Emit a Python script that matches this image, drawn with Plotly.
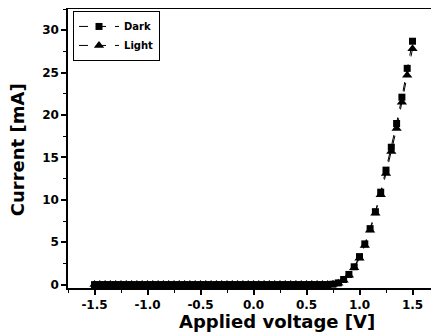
import plotly.graph_objects as go

voltage = [-1.5, -1.45, -1.4, -1.35, -1.3, -1.25, -1.2, -1.15, -1.1, -1.05,
           -1.0, -0.95, -0.9, -0.85, -0.8, -0.75, -0.7, -0.65, -0.6, -0.55,
           -0.5, -0.45, -0.4, -0.35, -0.3, -0.25, -0.2, -0.15, -0.1, -0.05,
           0.0, 0.05, 0.1, 0.15, 0.2, 0.25, 0.3, 0.35, 0.4, 0.45,
           0.5, 0.55, 0.6, 0.65, 0.7, 0.75, 0.8, 0.85, 0.9, 0.95,
           1.0, 1.05, 1.1, 1.15, 1.2, 1.25, 1.3, 1.35, 1.4, 1.45, 1.5]

dark = [0, 0, 0, 0, 0, 0, 0, 0, 0, 0,
        0, 0, 0, 0, 0, 0, 0, 0, 0, 0,
        0, 0, 0, 0, 0, 0, 0, 0, 0, 0,
        0, 0, 0, 0, 0, 0, 0, 0, 0, 0,
        0, 0, 0, 0, 0, 0.05, 0.2, 0.6, 1.2, 2.1,
        3.3, 4.8, 6.6, 8.6, 10.9, 13.5, 16.2, 19.0, 22.1, 25.5, 28.7]

light = [0, 0, 0, 0, 0, 0, 0, 0, 0, 0,
         0, 0, 0, 0, 0, 0, 0, 0, 0, 0,
         0, 0, 0, 0, 0, 0, 0, 0, 0, 0,
         0, 0, 0, 0, 0, 0, 0, 0, 0, 0,
         0, 0, 0, 0, 0, 0.03, 0.15, 0.5, 1.1, 2.0,
         3.1, 4.6, 6.4, 8.4, 10.6, 13.1, 15.7, 18.4, 21.5, 24.7, 27.8]

x_ticks = [-1.5, -1.0, -0.5, 0.0, 0.5, 1.0, 1.5]
x_ticklabels = ["-1.5", "-1.0", "-0.5", "0.0", "0.5", "1.0", "1.5"]
y_ticks = [0, 5, 10, 15, 20, 25, 30]

FONT = "DejaVu Sans"

fig = go.Figure()
fig.add_trace(go.Scatter(
    x=voltage, y=dark, name="<b>Dark</b>", mode="lines+markers",
    line=dict(color="black", width=1, dash="dash"),
    marker=dict(symbol="square", size=7, color="black"),
))
fig.add_trace(go.Scatter(
    x=voltage, y=light, name="<b>Light</b>", mode="lines+markers",
    line=dict(color="black", width=1, dash="dash"),
    marker=dict(symbol="triangle-up", size=9, color="black"),
))

fig.update_layout(
    template="none",
    width=431, height=325,
    margin=dict(l=60, r=0, t=1, b=45, autoexpand=False),
    paper_bgcolor="white", plot_bgcolor="white",
    font=dict(family=FONT, color="black"),
    showlegend=True,
    legend=dict(
        x=0.0135, y=0.993, xanchor="left", yanchor="top",
        bordercolor="black", borderwidth=1, bgcolor="white",
        font=dict(family=FONT, size=10, color="black"),
        itemwidth=40, tracegroupgap=0,
    ),
    xaxis=dict(
        range=[-1.75, 1.75], automargin=False,
        tickvals=x_ticks, ticktext=x_ticklabels,
        ticks="outside", ticklen=5, tickwidth=1.5, tickcolor="black",
        showline=True, linecolor="black", linewidth=1.5, mirror=True,
        showgrid=False, zeroline=False,
        tickfont=dict(family=FONT, size=12, color="black", weight="bold"),
        minor=dict(dtick=0.25, tick0=0, ticks="outside", ticklen=3, tickcolor="black", tickwidth=1),
    ),
    yaxis=dict(
        range=[-0.4, 32.5], automargin=False,
        tickvals=y_ticks,
        ticks="outside", ticklen=5, tickwidth=1.5, tickcolor="black",
        showline=True, linecolor="black", linewidth=1.5, mirror=False,
        showgrid=False, zeroline=False,
        tickfont=dict(family=FONT, size=12, color="black", weight="bold"),
        minor=dict(dtick=2.5, tick0=0, ticks="outside", ticklen=3, tickcolor="black", tickwidth=1),
    ),
    annotations=[
        dict(text="<b>Applied voltage [V]</b>", xref="paper", yref="paper",
             x=0.563, y=-0.121, xanchor="center", yanchor="middle",
             showarrow=False, font=dict(family=FONT, size=18, color="black")),
        dict(text="<b>Current [mA]</b>", xref="paper", yref="paper",
             x=-0.134, y=0.495, xanchor="center", yanchor="middle", textangle=-90,
             showarrow=False, font=dict(family=FONT, size=18, color="black")),
    ],
)

fig.write_html("out.html")
